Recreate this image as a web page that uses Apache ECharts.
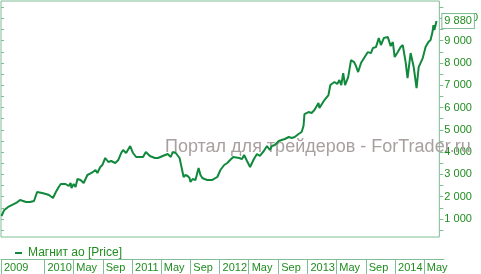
<!DOCTYPE html>
<html><head><meta charset="utf-8">
<script src="https://cdn.jsdelivr.net/npm/echarts@6/dist/echarts.min.js"></script>
<style>html,body{margin:0;padding:0;background:#fff}#c{width:481px;height:274px}</style>
</head><body><div id="c"></div>
<script>
const seriesName = 'Магнит ао [Price]';
const watermark = 'Портал для трейдеров - ForTrader.ru';
const dates = ['2009-07-06','2009-07-18','2009-08-03','2009-08-20','2009-09-06','2009-09-22','2009-10-05','2009-10-18','2009-11-03','2009-11-20','2009-12-03','2009-12-24',
'2010-01-09','2010-01-22','2010-02-08','2010-02-20','2010-03-04','2010-03-13','2010-04-02','2010-04-15','2010-04-23','2010-04-27','2010-05-06','2010-05-14','2010-05-22','2010-06-04','2010-06-17','2010-06-25','2010-07-03','2010-07-20','2010-08-06','2010-08-14','2010-08-26','2010-09-04','2010-09-16','2010-09-29','2010-10-11','2010-10-28','2010-11-10','2010-11-22','2010-11-30','2010-12-13','2010-12-30',
'2011-01-11','2011-01-24','2011-02-09','2011-02-22','2011-03-06','2011-03-23','2011-04-13','2011-04-26','2011-05-16','2011-06-06','2011-06-19','2011-06-27','2011-07-10','2011-07-26','2011-08-04','2011-08-12','2011-08-20','2011-08-29','2011-09-06','2011-09-10','2011-09-19','2011-09-27','2011-10-01','2011-10-14','2011-10-22','2011-10-30','2011-11-08','2011-11-20','2011-12-11',
'2012-01-01','2012-01-14','2012-01-30','2012-02-12','2012-02-24','2012-03-08','2012-03-16','2012-04-02','2012-04-14','2012-04-23','2012-05-05','2012-05-18','2012-06-03','2012-06-16','2012-06-28','2012-07-15','2012-07-28','2012-08-09','2012-08-18','2012-08-30','2012-09-16','2012-09-28','2012-10-11','2012-10-28','2012-11-09','2012-11-22','2012-12-08','2012-12-21','2012-12-29',
'2013-01-02','2013-01-19','2013-02-01','2013-02-13','2013-03-02','2013-03-06','2013-03-14','2013-03-27','2013-04-13','2013-04-21','2013-05-08','2013-05-20','2013-05-29','2013-06-06','2013-06-14','2013-06-22','2013-07-05','2013-07-17','2013-07-30','2013-08-07','2013-08-16','2013-08-28','2013-09-10','2013-09-26','2013-10-09','2013-10-17','2013-10-30','2013-11-11','2013-11-20','2013-12-02','2013-12-19','2013-12-31',
'2014-01-09','2014-01-17','2014-01-30','2014-02-11','2014-02-20','2014-03-04','2014-03-12','2014-03-25','2014-04-07','2014-04-19','2014-04-28','2014-05-15','2014-05-27','2014-06-08','2014-06-17','2014-06-25','2014-06-29','2014-07-03','2014-07-12'];
const prices = [1134,1404,1538,1628,1717,1852,1807,1762,1762,1807,2211,2166,
2121,2076,1942,2211,2435,2569,2569,2480,2614,2390,2569,2435,2794,2749,2614,2569,2973,3063,3197,3063,3332,3421,3735,3556,3601,3511,3646,3959,4094,3959,4273,
3959,3780,3780,3780,4004,3825,3735,3735,3825,3915,3780,4004,3959,3735,3287,2883,2973,2928,2838,2659,2794,2838,2749,3287,2973,2838,2794,2749,2749,
2883,3197,3421,3511,3646,3780,3735,3735,3690,3870,3601,3332,3690,3915,3825,4049,4273,4094,4273,4318,4497,4542,4587,4677,4632,4677,4811,4901,5170,
5708,5798,5753,5888,6201,5977,5977,6336,6560,7009,7143,7053,7233,7009,7547,7009,7367,8130,8040,7861,7592,7995,8219,8488,8443,8668,8712,9116,8802,9116,9161,8757,
8937,8264,8488,8712,8802,8040,7323,8443,7816,6874,7816,8219,8712,8937,9026,9385,9699,9475,9880];
const xMin = '2009-07-04', xMax = '2014-07-24';
const yMin = 190, yMax = 10780;
const tickDates = ['2009-07-04','2010-01-01','2010-05-01','2010-09-01','2011-01-01','2011-05-01','2011-09-01','2012-01-01','2012-05-01','2012-09-01','2013-01-01','2013-05-01','2013-09-01','2014-01-01','2014-05-01'];
const tickLabels = ['2009','2010','May','Sep','2011','May','Sep','2012','May','Sep','2013','May','Sep','2014','May'];
const yTicks = [500,1000,1500,2000,2500,3000,3500,4000,4500,5000,5500,6000,6500,7000,7500,8000,8500,9000,9500,10000,10500];
const yLabels = [1000,2000,3000,4000,5000,6000,7000,8000,9000,10000];

const GREEN = '#11893c', TXT = '#1f8d1f', BORDER = '#7fbd96';
const fmt = v => String(v).replace(/\B(?=(\d{3})+(?!\d))/g, ' ');
const ts = s => { const p = s.split('-').map(Number); return Date.UTC(p[0], p[1] - 1, p[2]); };
const tickTs = tickDates.map(ts);
const data = dates.map((d, i) => [ts(d), prices[i]]);
const last = prices[prices.length - 1];

const chart = echarts.init(document.getElementById('c'), null, {renderer: 'canvas'});
chart.setOption({
  animation: false,
  textStyle: {fontFamily: 'Liberation Sans, Arial, sans-serif'},
  grid: [
    {left: 1, right: 37, top: 1, bottom: 37, show: true, borderColor: BORDER, borderWidth: 1, backgroundColor: 'transparent'},
    {left: 1, right: 37, top: 259, height: 30}
  ],
  legend: {
    left: 10, top: 242, icon: 'rect', itemWidth: 7, itemHeight: 2, itemGap: 10,
    data: [seriesName],
    textStyle: {color: TXT, fontSize: 12, padding: [0, 0, 0, 1]}
  },
  xAxis: [
    {type: 'value', gridIndex: 0, min: ts(xMin), max: ts(xMax), axisLine: {show: false, onZero: false}, axisTick: {show: false}, axisLabel: {show: false}, splitLine: {show: false}},
    {type: 'value', gridIndex: 1, position: 'top', min: ts(xMin), max: ts(xMax),
     axisLine: {show: true, onZero: false, lineStyle: {color: BORDER, width: 1}},
     axisTick: {show: true, inside: true, length: 20, customValues: tickTs, lineStyle: {color: BORDER, width: 1}},
     axisLabel: {show: true, inside: true, customValues: tickTs, align: 'left', verticalAlign: 'top', margin: 3,
       padding: [0, 0, 0, 3], color: TXT, fontSize: 11,
       formatter: v => { const i = tickTs.indexOf(v); return i >= 0 ? tickLabels[i] : ''; }},
     splitLine: {show: false}}
  ],
  yAxis: [
    {type: 'value', gridIndex: 0, position: 'right', min: yMin, max: yMax,
     axisLine: {show: false},
     axisTick: {show: true, length: 4, customValues: yTicks, lineStyle: {color: BORDER}},
     axisLabel: {show: true, customValues: yLabels, margin: 5, color: TXT, fontSize: 11, formatter: v => fmt(v)},
     splitLine: {show: false}},
    {type: 'value', gridIndex: 0, position: 'left', min: yMin, max: yMax,
     axisLine: {show: false},
     axisTick: {show: true, inside: true, length: 3, customValues: yTicks, lineStyle: {color: BORDER}},
     axisLabel: {show: false}, splitLine: {show: false}},
    {type: 'value', gridIndex: 1, show: false, min: 0, max: 1}
  ],
  graphic: [{
    type: 'text', left: 165, top: 138, z: 1, silent: true,
    style: {text: watermark, fill: '#a89f9f', font: '18px "Liberation Sans", Arial, sans-serif'}
  }],
  series: [{
    name: seriesName, type: 'line', xAxisIndex: 0, yAxisIndex: 0, data: data,
    showSymbol: false, symbol: 'none', z: 3,
    lineStyle: {color: GREEN, width: 2}, itemStyle: {color: GREEN},
    markLine: {
      silent: true, symbol: ['none', 'none'], animation: false,
      lineStyle: {color: 'rgba(0,0,0,0)', width: 1, type: 'solid'},
      data: [{yAxis: last}],
      label: {show: true, position: 'end', distance: 3, formatter: () => fmt(last), color: TXT, fontSize: 11,
        backgroundColor: '#fff', borderColor: BORDER, borderWidth: 1, padding: [2, 2, 1, 2]}
    }
  }]
});
</script></body></html>
